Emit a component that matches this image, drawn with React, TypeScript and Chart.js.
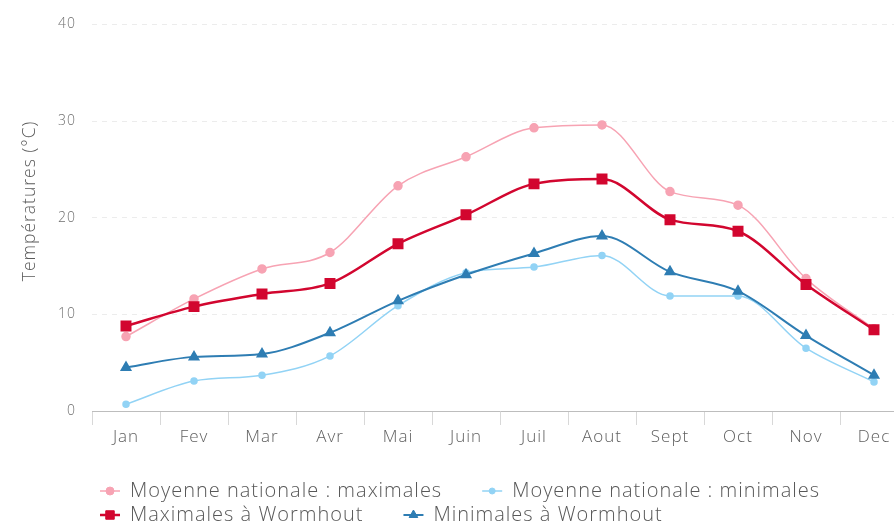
import React, { useEffect, useRef } from "react";
import { Chart, registerables } from "chart.js";
import { drawPoint } from "chart.js/helpers";

Chart.register(...registerables);

const months = ["Jan", "Fev", "Mar", "Avr", "Mai", "Juin", "Juil", "Aout", "Sept", "Oct", "Nov", "Dec"];
const natMaxLabel = "Moyenne nationale : maximales";
const natMinLabel = "Moyenne nationale : minimales";
const wormMaxLabel = "Maximales à Wormhout";
const wormMinLabel = "Minimales à Wormhout";
const natMax = [7.7, 11.6, 14.7, 16.4, 23.3, 26.3, 29.3, 29.6, 22.7, 21.3, 13.7, 8.5];
const natMin = [0.7, 3.1, 3.7, 5.7, 10.9, 14.3, 14.9, 16.1, 11.9, 11.9, 6.5, 3.0];
const wormMax = [8.8, 10.8, 12.1, 13.2, 17.3, 20.3, 23.5, 24.0, 19.8, 18.6, 13.1, 8.4];
const wormMin = [4.5, 5.6, 5.9, 8.1, 11.4, 14.1, 16.3, 18.1, 14.4, 12.4, 7.8, 3.7];
const yTitle = "Températures (°C)";

const FONT = "'Open Sans', sans-serif";

const spacingPlugin = {
  id: "letterSpacing",
  beforeDraw(chart: any) {
    (chart.ctx as any).letterSpacing = "1px";
  },
};

const legendPlugin = {
  id: "customLegend",
  afterDraw(chart: any) {
    const ctx: any = chart.ctx;
    ctx.save();
    ctx.letterSpacing = "1px";
    ctx.translate(30, 201);
    ctx.rotate(-Math.PI / 2);
    ctx.font = `300 17.5px ${FONT}`;
    ctx.fillStyle = "#5a5a5a";
    ctx.textAlign = "center";
    ctx.textBaseline = "middle";
    ctx.fillText(yTitle, 0, 0);
    ctx.restore();

    const rows = [[0, 1], [2, 3]];
    const rowY = [491, 515];
    ctx.save();
    ctx.letterSpacing = "1px";
    ctx.font = `300 20px ${FONT}`;
    ctx.textBaseline = "middle";
    ctx.textAlign = "left";
    rows.forEach((row, ri) => {
      let x = 100;
      const y = rowY[ri];
      row.forEach((i) => {
        const ds: any = chart.data.datasets[i];
        ctx.strokeStyle = ds.borderColor;
        ctx.lineWidth = ds.borderWidth;
        ctx.beginPath();
        ctx.moveTo(x, y);
        ctx.lineTo(x + 20, y);
        ctx.stroke();
        ctx.fillStyle = ds.pointBackgroundColor;
        ctx.strokeStyle = ds.borderColor;
        ctx.lineWidth = 1;
        drawPoint(ctx, { pointStyle: ds.pointStyle, radius: ds.pointRadius, rotation: 0, borderWidth: 1 } as any, x + 10, y);
        x += 30;
        ctx.fillStyle = "#585858";
        ctx.fillText(ds.label, x, y);
        x += ctx.measureText(ds.label).width + 40;
      });
    });
    ctx.restore();
  },
};

export default function App() {
  const ref = useRef<HTMLCanvasElement | null>(null);
  useEffect(() => {
    document.body.style.margin = "0";
    const chart = new Chart(ref.current as HTMLCanvasElement, {
      type: "line",
      data: {
        labels: months,
        datasets: [
          {
            label: natMaxLabel,
            data: natMax,
            borderColor: "#f7a3b3",
            backgroundColor: "#f7a3b3",
            pointBackgroundColor: "#f7a3b3",
            borderWidth: 1.5,
            pointStyle: "circle",
            pointRadius: 4,
            cubicInterpolationMode: "monotone",
            order: 2,
          },
          {
            label: natMinLabel,
            data: natMin,
            borderColor: "#92d3f5",
            backgroundColor: "#92d3f5",
            pointBackgroundColor: "#92d3f5",
            borderWidth: 1.5,
            pointStyle: "circle",
            pointRadius: 3,
            cubicInterpolationMode: "monotone",
            order: 3,
          },
          {
            label: wormMaxLabel,
            data: wormMax,
            borderColor: "#d2062f",
            backgroundColor: "#d2062f",
            pointBackgroundColor: "#d2062f",
            borderWidth: 2.5,
            pointStyle: "rect",
            pointRadius: 6,
            cubicInterpolationMode: "monotone",
            order: 0,
          },
          {
            label: wormMinLabel,
            data: wormMin,
            borderColor: "#2e7db3",
            backgroundColor: "#2e7db3",
            pointBackgroundColor: "#2e7db3",
            borderWidth: 2,
            pointStyle: "triangle",
            pointRadius: 5,
            cubicInterpolationMode: "monotone",
            order: 1,
          },
        ],
      },
      options: {
        animation: false,
        responsive: true,
        maintainAspectRatio: false,
        layout: { padding: { top: 16, right: 12, left: 0, bottom: 0 } },
        plugins: {
          legend: { display: false },
          tooltip: { enabled: false },
        },
        scales: {
          x: {
            offset: true,
            afterFit: (s: any) => {
              s.height = 114;
            },
            grid: { offset: true, drawOnChartArea: false, tickLength: 14, color: "#d8d8d8" },
            border: { display: true, color: "#bdbdbd", width: 1 },
            ticks: { color: "#5f5f5f", font: { family: FONT, size: 17, weight: "300" as any }, padding: 2 },
          },
          y: {
            min: 0,
            max: 40,
            afterFit: (s: any) => {
              s.width = 92;
            },
            ticks: { stepSize: 10, color: "#6f6f6f", font: { family: FONT, size: 14, weight: "300" as any }, padding: 16 },
            grid: { drawTicks: false, color: "#ececec" },
            border: { display: false, dash: [5, 5] },
            title: { display: false },
          },
        },
      },
      plugins: [spacingPlugin, legendPlugin],
    });
    return () => chart.destroy();
  }, []);
  return (
    <div style={{ width: 894, height: 525, overflow: "hidden" }}>
      <div style={{ position: "relative", width: 920, height: 525 }}>
        <canvas ref={ref} />
      </div>
    </div>
  );
}
